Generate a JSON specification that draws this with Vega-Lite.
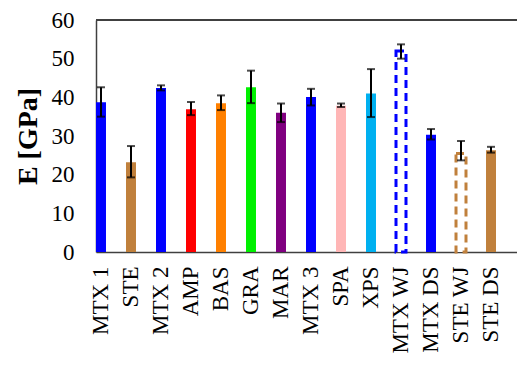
{
  "$schema": "https://vega.github.io/schema/vega-lite/v6.json",
  "autosize": {"type": "none"},
  "padding": {"left": 96, "top": 20, "right": 0, "bottom": 115},
  "width": 421,
  "height": 232,
  "background": "white",
  "config": {
    "view": {"stroke": null},
    "axis": {
      "labelFont": "Liberation Serif", "labelFontSize": 23, "labelColor": "#000000",
      "titleFont": "Liberation Serif", "titleColor": "#000000",
      "domainColor": "#404040", "domainWidth": 1.5, "grid": false, "ticks": false,
      "labelOverlap": false
    },
    "axisY": {"values": [0, 10, 20, 30, 40, 50, 60], "labelOverlap": false, "labelPadding": 22, "titlePadding": 9, "titleFontSize": 28, "titleFontWeight": "bold"},
    "axisX": {"labelAngle": -90, "labelPadding": 14}
  },
  "data": {"values": [
    {"label": "MTX 1", "value": 38.7, "lo": 35.0, "hi": 42.6, "color": "#0000FF", "style": "solid"},
    {"label": "STE", "value": 23.2, "lo": 19.3, "hi": 27.4, "color": "#C0803C", "style": "solid"},
    {"label": "MTX 2", "value": 42.4, "lo": 41.8, "hi": 43.1, "color": "#0000FF", "style": "solid"},
    {"label": "AMP", "value": 36.9, "lo": 35.4, "hi": 38.8, "color": "#FF0000", "style": "solid"},
    {"label": "BAS", "value": 38.5, "lo": 36.7, "hi": 40.5, "color": "#FF8000", "style": "solid"},
    {"label": "GRA", "value": 42.6, "lo": 38.5, "hi": 46.9, "color": "#00F000", "style": "solid"},
    {"label": "MAR", "value": 36.0, "lo": 33.6, "hi": 38.4, "color": "#800080", "style": "solid"},
    {"label": "MTX 3", "value": 40.1, "lo": 37.9, "hi": 42.2, "color": "#0000FF", "style": "solid"},
    {"label": "SPA", "value": 37.8, "lo": 37.5, "hi": 38.4, "color": "#FFB6B6", "style": "solid"},
    {"label": "XPS", "value": 41.0, "lo": 34.9, "hi": 47.3, "color": "#00B0F0", "style": "solid"},
    {"label": "MTX WJ", "value": 52.0, "lo": 50.0, "hi": 53.7, "color": "#0000FF", "style": "dashed"},
    {"label": "MTX DS", "value": 30.3, "lo": 29.1, "hi": 31.8, "color": "#0000FF", "style": "solid"},
    {"label": "STE WJ", "value": 25.5, "lo": 23.7, "hi": 28.7, "color": "#C0803C", "style": "dashed"},
    {"label": "STE DS", "value": 26.3, "lo": 25.7, "hi": 27.2, "color": "#C0803C", "style": "solid"}
  ]},
  "layer": [
    {
      "transform": [{"filter": "datum.style === 'solid'"}],
      "mark": {"type": "bar"},
      "encoding": {
        "x": {
          "field": "label", "type": "nominal",
          "sort": ["MTX 1", "STE", "MTX 2", "AMP", "BAS", "GRA", "MAR", "MTX 3", "SPA", "XPS", "MTX WJ", "MTX DS", "STE WJ", "STE DS"],
          "scale": {"domain": ["MTX 1", "STE", "MTX 2", "AMP", "BAS", "GRA", "MAR", "MTX 3", "SPA", "XPS", "MTX WJ", "MTX DS", "STE WJ", "STE DS"], "paddingInner": 0.667, "paddingOuter": 0.35, "align": 0},
          "axis": {"title": null}
        },
        "y": {
          "field": "value", "type": "quantitative",
          "scale": {"domain": [0, 60], "nice": false},
          "axis": {"title": "E [GPa]"}
        },
        "fill": {"field": "color", "type": "nominal", "scale": null}
      }
    },
    {
      "transform": [{"filter": "datum.style === 'dashed'"}],
      "mark": {"type": "bar", "fill": "white", "strokeWidth": 3, "strokeDash": [8, 5]},
      "encoding": {
        "x": {"field": "label", "type": "nominal", "title": null},
        "y": {"field": "value", "type": "quantitative", "title": "E [GPa]"},
        "stroke": {"field": "color", "type": "nominal", "scale": null}
      }
    },
    {
      "mark": {"type": "rule", "color": "black", "strokeWidth": 2},
      "encoding": {
        "x": {"field": "label", "type": "nominal", "title": null},
        "y": {"field": "lo", "type": "quantitative", "title": "E [GPa]"},
        "y2": {"field": "hi"}
      }
    },
    {
      "mark": {"type": "tick", "color": "black", "size": 8, "thickness": 2},
      "encoding": {
        "x": {"field": "label", "type": "nominal", "title": null},
        "y": {"field": "lo", "type": "quantitative", "title": "E [GPa]"}
      }
    },
    {
      "mark": {"type": "tick", "color": "black", "size": 8, "thickness": 2},
      "encoding": {
        "x": {"field": "label", "type": "nominal", "title": null},
        "y": {"field": "hi", "type": "quantitative", "title": "E [GPa]"}
      }
    },
    {
      "mark": {"type": "rule", "color": "#404040", "strokeWidth": 1.5},
      "encoding": {"y": {"datum": 60, "title": "E [GPa]"}}
    }
  ]
}
